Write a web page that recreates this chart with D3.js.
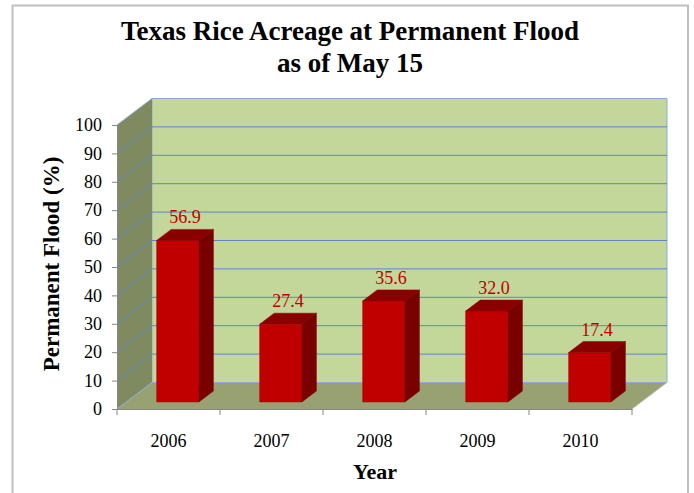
<!DOCTYPE html>
<html>
<head>
<meta charset="utf-8">
<script src="https://cdn.jsdelivr.net/npm/d3@7"></script>
<style>
  body { margin: 0; background: #fff; }
  text { font-family: "Liberation Serif", "Times New Roman", serif; }
</style>
</head>
<body>
<div class="chart"></div>
<script>
// data
var years = ["2006", "2007", "2008", "2009", "2010"];
var flood = [56.9, 27.4, 35.6, 32.0, 17.4];
var yTicks = [0, 10, 20, 30, 40, 50, 60, 70, 80, 90, 100];

var width = 694;
var height = 493;

// 3d depth offset of the back wall
var DX = 35, DY = 26.5;
var z0 = 0.264, z1 = 0.68; // bar front / back depth

var svg = d3.select(".chart").append("svg")
    .attr("width", width)
    .attr("height", height);

var x = d3.scaleBand()
    .domain(years)
    .range([117, 632])
    .paddingInner(0)
    .paddingOuter(0);

var y = d3.scaleLinear()
    .domain([0, 100])
    .range([409, 125]);

// project (px, value, depth) to screen
function P(px, v, z) {
  return [px + z * DX, y(v) - z * DY];
}
function poly(pts) {
  return "M" + pts.map(function(p){ return p.join(","); }).join("L") + "Z";
}

// outer frame
svg.append("rect")
    .attr("x", 12.5).attr("y", 5.5)
    .attr("width", 675.5).attr("height", 500)
    .attr("fill", "none")
    .attr("stroke", "#bfbfbf")
    .attr("stroke-width", 2);

var x0 = x.range()[0], x1 = x.range()[1];

// back wall
svg.append("path")
    .attr("d", poly([P(x0, 0, 1), P(x0, 100, 1), P(x1, 100, 1), P(x1, 0, 1)]))
    .attr("fill", "#c4d79b")
    .attr("stroke", "#8eaadb")
    .attr("stroke-width", 1);

// left wall
svg.append("path")
    .attr("d", poly([P(x0, 0, 0), P(x0, 100, 0), P(x0, 100, 1), P(x0, 0, 1)]))
    .attr("fill", "#7f8a60");

// floor
svg.append("path")
    .attr("d", poly([P(x0, 0, 0), P(x0, 0, 1), P(x1, 0, 1), P(x1, 0, 0)]))
    .attr("fill", "#98a172");

// gridlines
var grid = svg.append("g").attr("class", "grid")
    .attr("stroke", "#5b87c5")
    .attr("stroke-width", 1)
    .attr("fill", "none");
yTicks.forEach(function(t){
  if (t === 0 || t === 100) return;
  grid.append("path").attr("d", "M" + P(x0, t, 0) + "L" + P(x0, t, 1) + "L" + P(x1, t, 1));
});
// floor back edge / wall base
grid.append("path").attr("d", "M" + P(x0, 0, 0) + "L" + P(x0, 0, 1) + "L" + P(x1, 0, 1))
    .attr("stroke", "#8eaadb");
grid.append("path").attr("d", "M" + P(x0, 100, 0) + "L" + P(x0, 100, 1))
    .attr("stroke", "#8eaadb");

// floor outer edges
svg.append("path")
    .attr("d", "M" + P(x1, 0, 1) + "L" + P(x1, 0, 0))
    .attr("stroke", "#bfbfbf")
    .attr("fill", "none");

// bars
var bw = x.bandwidth() * 0.41;
var bars = svg.append("g").attr("class", "bars");
years.forEach(function(yr, i){
  var v = flood[i];
  var L = x(yr) + (x.bandwidth() - bw) / 2;
  var R = L + bw;
  var g = bars.append("g");
  // front face
  g.append("path")
      .attr("d", poly([P(L, 0, z0), P(L, v, z0), P(R, v, z0), P(R, 0, z0)]))
      .attr("fill", "#c00000")
      .attr("stroke", "#c00000").attr("stroke-width", 0.5);
  // top face
  g.append("path")
      .attr("d", poly([P(L, v, z0), P(L, v, z1), P(R, v, z1), P(R, v, z0)]))
      .attr("fill", "#8a0000")
      .attr("stroke", "#8a0000").attr("stroke-width", 0.5);
  // side face
  g.append("path")
      .attr("d", poly([P(R, 0, z0), P(R, v, z0), P(R, v, z1), P(R, 0, z1)]))
      .attr("fill", "#7a0000")
      .attr("stroke", "#7a0000").attr("stroke-width", 0.5);
  // value label
  var lp = P((L + R) / 2, v, (z0 + z1) / 2);
  g.append("text")
      .attr("x", lp[0])
      .attr("y", P(L, v, z1)[1] - 6)
      .attr("text-anchor", "middle")
      .attr("fill", "#c00000")
      .style("font-size", "18px")
      .text(v.toFixed(1));
});

// y axis
var yAxis = svg.append("g")
    .attr("transform", "translate(" + x0 + ",0)")
    .call(d3.axisLeft(y).tickValues(yTicks).tickSize(5).tickPadding(10));
yAxis.select(".domain").attr("stroke", "#868686");
yAxis.selectAll(".tick line").attr("stroke", "#868686");
yAxis.selectAll("text")
    .style("font-family", "'Liberation Serif', serif")
    .style("font-size", "18px")
    .attr("fill", "#000");

// x axis
var xAxis = svg.append("g")
    .attr("transform", "translate(0," + y(0) + ")")
    .call(d3.axisBottom(x).tickSize(0).tickPadding(25));
xAxis.select(".domain").attr("stroke", "#868686");
xAxis.selectAll("text")
    .style("font-family", "'Liberation Serif', serif")
    .style("font-size", "18px")
    .attr("fill", "#000");
// band edge ticks
xAxis.selectAll(".edge")
    .data(years.map(function(d){ return x(d); }).concat([x1]))
  .enter().append("line")
    .attr("class", "edge")
    .attr("x1", function(d){ return d; })
    .attr("x2", function(d){ return d; })
    .attr("y1", 0).attr("y2", 6)
    .attr("stroke", "#868686");

// titles
var title = svg.append("text")
    .attr("x", 349)
    .attr("text-anchor", "middle")
    .style("font-size", "27px")
    .style("font-weight", "bold");
title.append("tspan").attr("x", 350).attr("y", 40).text("Texas Rice Acreage at Permanent Flood");
title.append("tspan").attr("x", 350).attr("y", 72).text("as of May 15");

svg.append("text")
    .attr("x", 375).attr("y", 479)
    .attr("text-anchor", "middle")
    .style("font-size", "22px")
    .style("font-weight", "bold")
    .text("Year");

svg.append("text")
    .attr("transform", "translate(59,264) rotate(-90)")
    .attr("text-anchor", "middle")
    .style("font-size", "23px")
    .style("font-weight", "bold")
    .text("Permanent Flood (%)");
</script>
</body>
</html>
